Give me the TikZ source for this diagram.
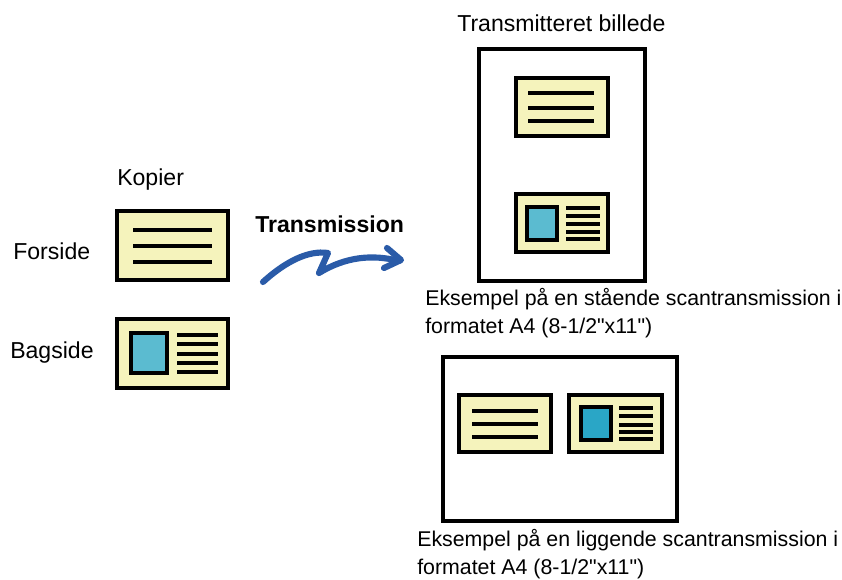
\documentclass[tikz,border=0pt]{standalone}
\usepackage{fontspec}
\setmainfont{Liberation Sans}[Ligatures=TeXOff]
\definecolor{cardfill}{HTML}{F5F3BC}
\definecolor{photoA}{HTML}{5BBBD0}
\definecolor{photoB}{HTML}{2AA6C6}
\definecolor{arrowblue}{HTML}{2A5BA8}
\begin{document}
\begin{tikzpicture}[x=0.75pt,y=-0.75pt,
  card/.style={draw=black, fill=cardfill, line width=2.6pt},
  page/.style={draw=black, line width=2.7pt},
  txtline/.style={line width=2.5pt},
  photoa/.style={draw=black, fill=photoA, line width=2.6pt},
  photob/.style={draw=black, fill=photoB, line width=2.6pt},
  lbl/.style={font=\fontsize{17.3pt}{20pt}\selectfont, anchor=base west, inner sep=0pt},
  captxt/.style={font=\fontsize{16pt}{20pt}\selectfont, anchor=base west, inner sep=0pt}]
\useasboundingbox (0,0) rectangle (842,580);
\fill[white] (0,0) rectangle (842,580);

% labels
\node[lbl] (title) at (457,32) {Transmitteret billede};
\node[lbl] (kopier) at (117,186) {Kopier};
\node[lbl] (forside) at (13,260) {Forside};
\node[lbl] (bagside) at (10,359) {Bagside};
\node[lbl, font=\fontsize{17.3pt}{20pt}\selectfont\bfseries] (trans) at (255,233) {Transmission};
\node[captxt] (c1a) at (425,306) {Eksempel på en stående scantransmission i};
\node[captxt] (c1b) at (425,334) {formatet A4 (8-1/2"x11")};
\node[captxt] (c2a) at (417,546) {Eksempel på en liggende scantransmission i};
\node[captxt] (c2b) at (417,574) {formatet A4 (8-1/2"x11")};

% originals
\draw[card] (117,211) rectangle (228,280);
\foreach \y in {230,246,262} \draw[txtline] (133,\y) -- (212,\y);
\draw[card] (117,319) rectangle (228,388);
\draw[photoa] (131,333) rectangle (167,373);
\foreach \y in {335,344,354,363,372} \draw[txtline] (177,\y) -- (218,\y);

% arrow
\draw[arrowblue, line width=4.6pt, line cap=round, line join=round]
  (263,282) .. controls (285,262) and (308,250) .. (328,253) -- (319,273)
  .. controls (345,257) and (372,254) .. (399,261);
\draw[arrowblue, line width=4.6pt, line cap=round, line join=round]
  (387,248) -- (401,260) -- (384,268);

% portrait page
\draw[page] (479,49) rectangle (645,281);
\draw[card] (516,78) rectangle (608,136);
\foreach \y in {93,108,121} \draw[txtline] (528,\y) -- (594,\y);
\draw[card] (516,194) rectangle (608,252);
\draw[photoa] (527,207) rectangle (557,240);
\foreach \y in {208,216,224,232,239} \draw[txtline] (566,\y) -- (600,\y);

% landscape page
\draw[page] (443,357) rectangle (677,521);
\draw[card] (459,395) rectangle (551,452);
\foreach \y in {411,424,437} \draw[txtline] (472,\y) -- (538,\y);
\draw[card] (569,395) rectangle (662,452);
\draw[photob] (581,407) rectangle (611,440);
\foreach \y in {408,416,425,432,439} \draw[txtline] (619,\y) -- (653,\y);
\end{tikzpicture}
\end{document}
